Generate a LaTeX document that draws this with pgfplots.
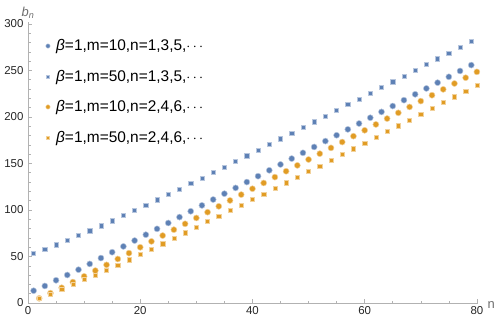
\documentclass[border=0pt]{standalone}
\usepackage{fontspec}
\setmainfont{Liberation Sans}
\usepackage{pgfplots}
\pgfplotsset{compat=1.18}
\definecolor{mblue}{RGB}{94,129,181}
\definecolor{morange}{RGB}{225,156,36}
\definecolor{axgray}{RGB}{178,178,178}
\definecolor{labgray}{RGB}{110,110,110}
\begin{document}
\begin{tikzpicture}
\path[use as bounding box] (0,0) rectangle (498bp,324bp);
\begin{axis}[
 at={(28bp,21bp)}, anchor=south west,
 scale only axis, width=450bp, height=281bp,
 xmin=0, xmax=80.2, ymin=0, ymax=302,
 axis x line=bottom, axis y line=left,
 axis line style={axgray,-},
 xtick={0,20,...,80}, ytick={0,50,...,300},
 minor x tick num=3, minor y tick num=4,
 tick align=inside, major tick length=4bp, minor tick length=2.5bp,
 every tick/.style={axgray, line width=0.5pt},
 tick label style={font=\fontsize{11.5}{13}\selectfont, text=black!85},
 yticklabel style={xshift=-1bp},
 /pgf/number format/assume math mode=true,
 xlabel={n}, ylabel={\textit{b}\textsubscript{\textit{n}}},
 label style={font=\fontsize{13}{14}\selectfont, text=labgray},
 xlabel style={at={(axis description cs:1,0)}, anchor=west, xshift=6bp, yshift=-2bp},
 ylabel style={at={(axis description cs:0,1)}, rotate=-90, anchor=south, yshift=0bp},
 legend style={at={(axis cs:2.6,287.5)}, anchor=north west, draw=none, fill=none,
   font=\fontsize{15.5}{17}\selectfont, row sep=13.8bp, column sep=4bp},
 legend cell align=left,
 clip=false,
]
\addplot[only marks, mark=*, mark size=3bp, mark options={fill=mblue, draw=mblue!45!white, line width=0.5pt},
  legend image post style={mark size=2.2bp}] coordinates {
(1,13.2)(3,18.3)(5,24.4)(7,30.1)(9,35.8)(11,42.0)(13,48.3)(15,54.6)(17,60.8)(19,67.1)
(21,73.4)(23,79.7)(25,86.0)(27,92.3)(29,98.6)(31,104.9)(33,111.2)(35,117.5)(37,123.7)(39,130.0)
(41,136.3)(43,142.6)(45,148.9)(47,155.2)(49,161.4)(51,167.7)(53,174.0)(55,180.3)(57,186.6)(59,192.9)
(61,199.1)(63,205.4)(65,211.7)(67,218.0)(69,224.3)(71,230.6)(73,236.8)(75,243.1)(77,249.4)(79,255.7)};
\addlegendentry{\textit{β}=1,m=10,n=1,3,5,$\cdots$}
\addplot[only marks, mark=square*, mark size=2.1bp, mark options={fill=mblue, draw=mblue!45!white, line width=0.5pt},
  legend image post style={mark size=1.6bp}] coordinates {
(1,53.8)(3,57.7)(5,62.7)(7,67.7)(9,72.4)(11,77.6)(13,83.0)(15,88.5)(17,94.0)(19,99.6)
(21,105.2)(23,110.9)(25,116.7)(27,122.5)(29,128.4)(31,134.3)(33,140.2)(35,146.2)(37,152.2)(39,158.2)
(41,164.3)(43,170.4)(45,176.5)(47,182.6)(49,188.8)(51,194.9)(53,201.0)(55,207.1)(57,213.2)(59,219.3)
(61,225.4)(63,231.6)(65,237.7)(67,243.9)(69,250.0)(71,256.2)(73,262.4)(75,268.6)(77,274.8)(79,281.0)};
\addlegendentry{\textit{β}=1,m=50,n=1,3,5,$\cdots$}
\addplot[only marks, mark=*, mark size=3bp, mark options={fill=morange, draw=morange!45!white, line width=0.5pt},
  legend image post style={mark size=2.2bp}] coordinates {
(2,5.0)(4,10.6)(6,16.4)(8,22.5)(10,28.6)(12,34.8)(14,41.0)(16,47.3)(18,53.6)(20,59.9)
(22,66.2)(24,72.5)(26,78.8)(28,85.1)(30,91.4)(32,97.6)(34,103.9)(36,110.2)(38,116.5)(40,122.8)
(42,129.0)(44,135.3)(46,141.6)(48,147.9)(50,154.2)(52,160.5)(54,166.7)(56,173.0)(58,179.3)(60,185.6)
(62,191.9)(64,198.2)(66,204.4)(68,210.7)(70,217.0)(72,223.3)(74,229.6)(76,235.9)(78,242.1)(80,248.4)};
\addlegendentry{\textit{β}=1,m=10,n=2,4,6,$\cdots$}
\addplot[only marks, mark=square*, mark size=2.1bp, mark options={fill=morange, draw=morange!45!white, line width=0.5pt},
  legend image post style={mark size=1.6bp}] coordinates {
(2,4.8)(4,9.8)(6,14.7)(8,20.1)(10,25.1)(12,29.9)(14,35.2)(16,40.9)(18,46.5)(20,52.2)
(22,57.8)(24,63.6)(26,69.6)(28,75.5)(30,81.5)(32,87.5)(34,93.4)(36,99.4)(38,105.4)(40,111.3)
(42,117.3)(44,123.3)(46,129.3)(48,135.4)(50,141.4)(52,147.4)(54,153.4)(56,159.6)(58,165.8)(60,172.0)
(62,178.2)(64,184.4)(66,190.6)(68,196.8)(70,203.0)(72,209.2)(74,215.4)(76,221.6)(78,227.9)(80,234.1)};
\addlegendentry{\textit{β}=1,m=50,n=2,4,6,$\cdots$}
\end{axis}
\end{tikzpicture}
\end{document}
